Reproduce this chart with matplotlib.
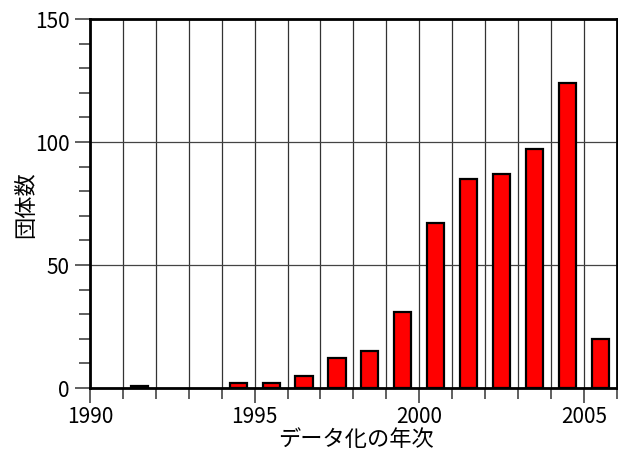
import matplotlib
matplotlib.use("Agg")
import matplotlib.pyplot as plt
from matplotlib.ticker import MultipleLocator

plt.rcParams['font.family'] = ['Noto Sans CJK JP', 'DejaVu Sans']

# data
years = [1990, 1991, 1992, 1993, 1994, 1995, 1996, 1997,
         1998, 1999, 2000, 2001, 2002, 2003, 2004, 2005]
counts = [0, 1, 0, 0, 2, 2, 5, 12, 15, 31, 67, 85, 87, 97, 124, 20]
xticks_major = [1990, 1995, 2000, 2005]
yticks_major = [0, 50, 100, 150]

fig = plt.figure(figsize=(6.18, 4.52), dpi=100)
ax = fig.add_axes([0.1456, 0.1394, 0.8525, 0.8164])

edges = ["black" if c > 0 else "none" for c in counts]
ax.bar([y + 0.5 for y in years], counts, width=0.52, color="red",
       edgecolor=edges, linewidth=1.6, zorder=3)

ax.set_xlim(1990, 2006)
ax.set_ylim(0, 150)
ax.set_xticks(xticks_major)
ax.set_xticklabels([str(v) for v in xticks_major])
ax.xaxis.set_minor_locator(MultipleLocator(1))
ax.set_yticks(yticks_major)
ax.yaxis.set_minor_locator(MultipleLocator(10))

ax.grid(True, which="both", axis="x", color="#333333", linewidth=0.9, zorder=1)
ax.grid(True, which="major", axis="y", color="#444444", linewidth=0.9, zorder=1)

ax.tick_params(axis="both", which="both", direction="out", width=1.2,
               color="#444444", labelsize=15)
ax.tick_params(axis="both", which="major", length=11)
ax.tick_params(axis="both", which="minor", length=8)
ax.tick_params(axis="x", pad=1)

for s in ax.spines.values():
    s.set_linewidth(2)
    s.set_zorder(4)

ax.set_xlabel("データ化の年次", fontsize=16)
ax.set_ylabel("団体数", fontsize=16)
ax.xaxis.set_label_coords(0.505, -0.138)
ax.yaxis.set_label_coords(-0.123, 0.5)
ax.xaxis.label.set_va("center")
ax.yaxis.label.set_va("center")

fig.savefig("out.png", dpi=100)
